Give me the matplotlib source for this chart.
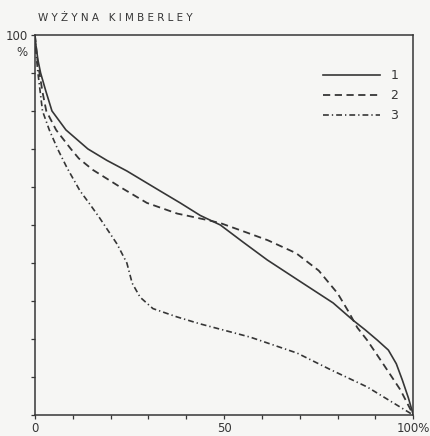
import matplotlib
matplotlib.use("Agg")
import matplotlib.pyplot as plt

# krzywe (% powierzchni, % wysokosci)
x1 = [0, 0.3, 0.8, 1.5, 2.8, 4.5, 8.2, 14, 19, 24.3, 33, 38.4, 43.7, 49, 55, 61.4, 70, 78.8,
      84, 87.3, 90.5, 93.4, 95.5, 97.1, 98.7, 100]
y1 = [100, 97, 93.4, 90, 85.5, 80, 75, 70, 67, 64.2, 59, 55.8, 52.5, 50, 45.5, 40.8, 35.2, 29.5,
      25, 22.4, 19.7, 17.1, 13.5, 9.2, 4.5, 0]

x2 = [0, 0.3, 0.7, 1.2, 2, 3, 5.6, 9.5, 11.6, 15.3, 22.5, 29.6, 37.6, 40, 46, 49, 56, 61.5,
      69, 75, 80, 83, 85.2, 87.8, 92, 96.6, 100]
y2 = [100, 97, 93, 90, 85, 80, 75, 70, 67.5, 64.5, 60, 55.8, 53, 52.5, 51.2, 50.5, 48, 46,
      42.6, 38, 32, 27, 23, 19.7, 13.5, 6.6, 0]

x3 = [0, 0.3, 0.8, 2, 3.8, 6, 8.5, 11.9, 14.5, 17, 21.7, 24.3, 25.7, 27.8, 31.2, 37.6, 43.6,
      56.9, 69.3, 78, 87.8, 100]
y3 = [100, 95, 90, 80, 75, 70, 65, 59, 55.5, 52, 45, 40, 34.7, 31, 28, 25.8, 24,
      20.5, 16.3, 12, 7.4, 0]

labels = ["1", "2", "3"]
xticks = [0, 50, 100]
xticklabels = ["0", "50", "100%"]

ink = "#363636"
bg = "#f6f6f4"

fig = plt.figure(figsize=(4.31, 4.36), dpi=100, facecolor=bg)
ax = fig.add_axes([0.081, 0.048, 0.878, 0.872], facecolor=bg)

ax.plot(x1, y1, color=ink, lw=1.2, label=labels[0])
ax.plot(x2, y2, color=ink, lw=1.3, dashes=(4, 2.5), label=labels[1])
ax.plot(x3, y3, color=ink, lw=1.2, dashes=(3.5, 1.8, 0.8, 1.8), label=labels[2])

ax.set_xlim(0, 100)
ax.set_ylim(0, 100)
ax.set_xticks(xticks)
ax.set_xticklabels(xticklabels)
ax.set_xticks(range(0, 101, 10), minor=True)
ax.set_yticks([100])
ax.set_yticklabels(["100"])
ax.set_yticks(range(0, 101, 10), minor=True)
ax.tick_params(which="both", direction="out", length=3, width=0.9, color=ink,
               labelsize=8.5, labelcolor=ink, pad=2)
for s in ax.spines.values():
    s.set_color(ink)
    s.set_linewidth(1.1)

ax.text(-0.035, 0.97, "%", transform=ax.transAxes, ha="center", va="top",
        fontsize=8.5, color=ink)
fig.text(0.088, 0.958, "W Y Ż Y N A   K I M B E R L E Y", fontsize=7.5, color=ink,
         ha="left", va="center")

leg = ax.legend(loc="upper right", bbox_to_anchor=(0.99, 0.94), frameon=False,
                handlelength=4.6, labelspacing=0.58, fontsize=9, handletextpad=0.8)
for t in leg.get_texts():
    t.set_color(ink)

fig.savefig("out.png", dpi=100, facecolor=bg)
